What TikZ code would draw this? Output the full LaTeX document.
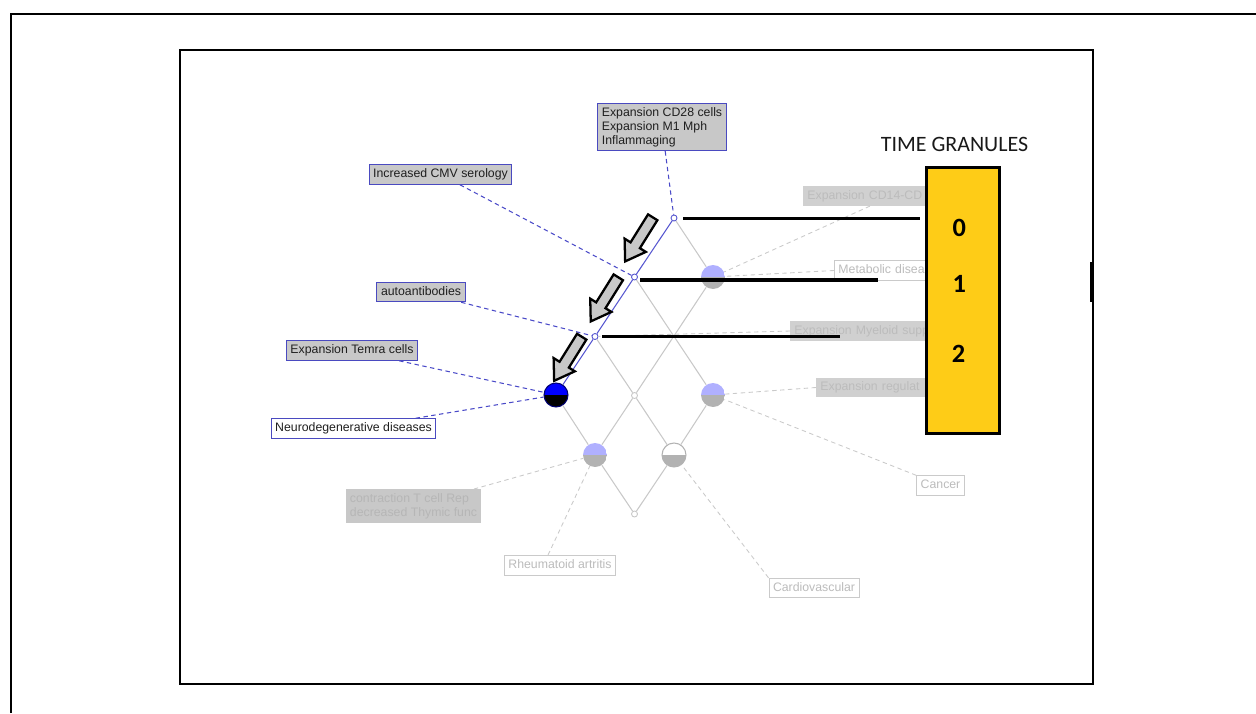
\documentclass[tikz,border=0pt]{standalone}
\usepackage{fontspec}
\setmainfont{Liberation Sans}
\newfontfamily\calib{Carlito}
\definecolor{lblfill}{HTML}{C8C8C8}
\definecolor{lblborder}{HTML}{4A4AC0}
\definecolor{hidash}{HTML}{4A4AC8}
\definecolor{fadefill}{HTML}{D0D0D0}
\definecolor{fadetext}{HTML}{BCBCBC}
\definecolor{fadeline}{HTML}{CACACA}
\definecolor{latline}{HTML}{C8C8C8}
\definecolor{lav}{HTML}{B0B0FF}
\definecolor{halfgray}{HTML}{B2B2B2}
\definecolor{granule}{HTML}{FECC17}
\definecolor{pathblue}{HTML}{5656D0}
\tikzset{
  lblbase/.style={draw=lblborder, fill=lblfill, line width=0.6pt, inner xsep=2.3pt, inner ysep=2.2pt, font=\fontsize{7}{8}\selectfont, text=black!88, align=left},
  lbl/.style={lblbase, text height=5.2pt, text depth=1.5pt},
  lblw/.style={lbl, fill=white},
  fadebase/.style={fill=fadefill, inner xsep=2.3pt, inner ysep=2.2pt, font=\fontsize{7}{8}\selectfont, text=fadetext, align=left},
  fadebox/.style={fadebase, text height=5.2pt, text depth=1.5pt},
  fadew/.style={fadebox, fill=white, draw=fadeline, line width=0.5pt},
  hiconn/.style={draw=hidash, line width=0.6pt, dash pattern=on 2.5pt off 2pt},
  fadeconn/.style={draw=fadeline, line width=0.5pt, dash pattern=on 2.5pt off 2pt},
  latt/.style={draw=latline, line width=0.6pt},
  bluepath/.style={draw=pathblue, line width=0.6pt},
  smallnode/.style={circle, draw=pathblue, fill=white, line width=0.5pt, minimum size=0.12cm, inner sep=0pt},
  smallgray/.style={smallnode, draw=latline},
  half/.style 2 args={circle, minimum size=0.48cm, inner sep=0pt,
    path picture={\fill[#1] (path picture bounding box.west) rectangle (path picture bounding box.north east);
                  \fill[#2] (path picture bounding box.west) rectangle (path picture bounding box.south east);}},
  timeline/.style={line width=2pt, draw=black},
  blockarrow/.style={fill=lblfill, draw=black, line width=1.3pt, line join=miter},
  granulebox/.style={fill=granule, draw=black, line width=1.7pt},
  digit/.style={font=\calib\bfseries\fontsize{15}{17}\selectfont, text=black},
}
\begin{document}
\begin{tikzpicture}[x=0.02cm,y=-0.02cm]
\useasboundingbox (0,0) rectangle (1256,713);
% frames
\draw[line width=0.9pt] (11,713) -- (11,14) -- (1256,14);
\draw[line width=1.1pt] (180,50) rectangle (1093,684);
\draw[line width=1.7pt] (1091.3,262) -- (1091.3,302);

% lattice nodes
\node[smallnode] (A) at (674,218) {};
\node[smallnode] (B) at (634.5,277) {};
\node[half={lav}{halfgray}] (C) at (713,277) {};
\node[smallnode] (D) at (595,336.5) {};
\node[half={blue}{black}, draw=blue!45!black, line width=0.6pt] (E) at (556,395) {};
\node[smallgray] (F) at (634.5,395.5) {};
\node[half={lav}{halfgray}] (G) at (713,395) {};
\node[half={lav}{halfgray}] (H) at (595,455) {};
\node[half={white}{halfgray}, draw=halfgray, line width=0.6pt] (I) at (674,455) {};
\node[smallgray] (J) at (634.5,514) {};

% lattice edges
\draw[latt] (A) -- (C);
\draw[latt] (B) -- (G);
\draw[latt] (C) -- (F);
\draw[latt] (D) -- (F);
\draw[latt] (E) -- (H);
\draw[latt] (F) -- (H);
\draw[latt] (F) -- (I);
\draw[latt] (G) -- (I);
\draw[latt] (H) -- (J);
\draw[latt] (I) -- (J);
\draw[bluepath] (A) -- (B) -- (D) -- (E);

% highlighted labels
\node[lblbase] (cd28) at (662,127) {Expansion CD28 cells\\Expansion M1 Mph\\Inflammaging};
\node[lbl] (cmv) at (440.5,174.5) {Increased CMV serology};
\node[lbl] (auto) at (421,292) {autoantibodies};
\node[lbl] (temra) at (352,350.5) {Expansion Temra cells};
\node[lblw] (neuro) at (353.5,428.5) {Neurodegenerative diseases};

\draw[hiconn] (cd28) -- (A);
\draw[hiconn] (cmv) -- (B);
\draw[hiconn] (auto) -- (D);
\draw[hiconn] (temra) -- (E);
\draw[hiconn] (neuro) -- (E);

% faded labels
\node[fadebox, anchor=west, text width=2.5cm] (cd14) at (803,196) {Expansion CD14-CD};
\node[fadew, anchor=west, text width=1.9cm] (met) at (834,270.5) {Metabolic disea};
\node[fadebox, anchor=west, text width=2.8cm] (mye) at (790,331) {Expansion Myeloid supp};
\node[fadebox, anchor=west, text width=2.3cm] (reg) at (816,387.5) {Expansion regulat};
\node[fadew] (cancer) at (940.5,485.5) {Cancer};
\node[fadebase, fill=lblfill, text=black!9!lblfill] (contr) at (413.5,506) {contraction T cell Rep\\decreased Thymic func};
\node[fadew] (rheu) at (560,565.5) {Rheumatoid artritis};
\node[fadew] (cardio) at (814,588) {Cardiovascular};

\coordinate (rheutop) at (548,555);
\draw[fadeconn] (cd14.south) -- (C);
\draw[fadeconn] (met.west) -- (C);
\draw[fadeconn] (mye.west) -- (D);
\draw[fadeconn] (reg.west) -- (G);
\draw[fadeconn] (cancer.north west) -- (G);
\draw[fadeconn] (contr) -- (H);
\draw[fadeconn] (rheutop) -- (H);
\draw[fadeconn] (cardio.north west) -- (I);

% time lines
\coordinate (l0a) at (683,218.5); \coordinate (l0b) at (920,218.5);
\coordinate (l1a) at (640,280);   \coordinate (l1b) at (878,280);
\coordinate (l2a) at (602,336.5); \coordinate (l2b) at (840,336.5);
\draw[timeline] (l0a) -- (l0b);
\draw[timeline] (l1a) -- (l1b);
\draw[timeline] (l2a) -- (l2b);

% block arrows
\foreach \tx/\ty in {652.7/217.3, 618.3/277.3, 581.7/336.7}{
  \begin{scope}[shift={(\tx,\ty)}, rotate=238]
    \draw[blockarrow] (0,5.5) -- (33,5.5) -- (33,12.5) -- (52,0) -- (33,-12.5) -- (33,-5.5) -- (0,-5.5) -- cycle;
  \end{scope}
}

% time granules
\node[font=\calib\fontsize{12.5}{14}\selectfont, text=black!90] (title) at (954.5,144) {TIME GRANULES};
\node[granulebox, minimum width=1.456cm, minimum height=5.32cm, inner sep=0pt] (gran) at (963,300.5) {};
\node[digit] (g0) at (959.3,228.3) {0};
\node[digit] (g1) at (959.3,284) {1};
\node[digit] (g2) at (958.5,354.3) {2};
\end{tikzpicture}
\end{document}
